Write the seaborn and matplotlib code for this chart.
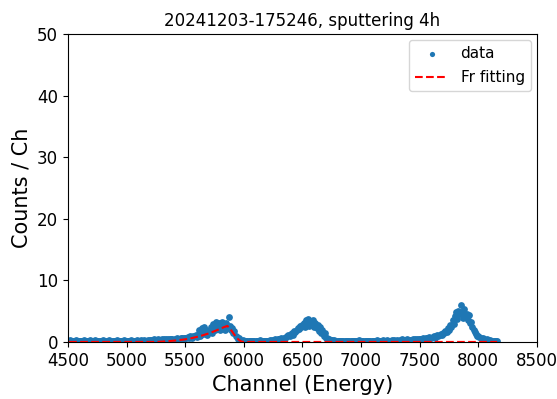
import numpy as np
import pandas as pd
import matplotlib
matplotlib.use("Agg")
import matplotlib.pyplot as plt
import seaborn as sns

# Spectrum: counts per channel, 10-channel spacing starting at 4510
channel_start = 4510
channel_step = 10
counts = [
    0.2, 0.3, 0.1, 0.2, 0.2, 0.1, 0.3, 0.2, 0.1, 0.2,   # 4510-4600
    0.1, 0.2, 0.2, 0.3, 0.1, 0.2, 0.1, 0.2, 0.3, 0.1,   # 4610-4700
    0.2, 0.1, 0.3, 0.2, 0.1, 0.2, 0.2, 0.1, 0.2, 0.3,   # 4710-4800
    0.1, 0.2, 0.1, 0.2, 0.3, 0.2, 0.1, 0.2, 0.1, 0.2,   # 4810-4900
    0.2, 0.3, 0.2, 0.1, 0.2, 0.2, 0.1, 0.3, 0.2, 0.1,   # 4910-5000
    0.2, 0.1, 0.2, 0.3, 0.2, 0.1, 0.2, 0.2, 0.3, 0.2,   # 5010-5100
    0.2, 0.3, 0.2, 0.1, 0.3, 0.2, 0.2, 0.3, 0.2, 0.3,   # 5110-5200
    0.3, 0.2, 0.4, 0.3, 0.2, 0.3, 0.4, 0.3, 0.2, 0.4,   # 5210-5300
    0.3, 0.4, 0.3, 0.5, 0.4, 0.3, 0.4, 0.5, 0.4, 0.3,   # 5310-5400
    0.5, 0.4, 0.6, 0.5, 0.4, 0.6, 0.7, 0.5, 0.6, 0.7,   # 5410-5500
    0.6, 0.8, 0.7, 0.9, 0.8, 0.7, 1.0, 0.9, 1.1, 0.8,   # 5510-5600
    1.2, 1.9, 1.0, 2.2, 1.3, 2.5, 1.5, 2.0, 1.2, 1.8,   # 5610-5700
    1.6, 2.5, 1.5, 2.9, 2.0, 3.2, 2.2, 2.7, 3.0, 1.9,   # 5710-5800
    3.2, 2.4, 2.8, 2.0, 3.0, 2.3, 4.0, 2.6, 1.9, 2.2,   # 5810-5900
    1.4, 1.7, 1.0, 0.8, 0.5, 0.6, 0.3, 0.2, 0.3, 0.2,   # 5910-6000
    0.1, 0.2, 0.1, 0.2, 0.1, 0.2, 0.2, 0.1, 0.2, 0.1,   # 6010-6100
    0.2, 0.1, 0.2, 0.3, 0.2, 0.1, 0.2, 0.2, 0.1, 0.2,   # 6110-6200
    0.2, 0.3, 0.2, 0.3, 0.2, 0.3, 0.4, 0.3, 0.4, 0.5,   # 6210-6300
    0.4, 0.6, 0.5, 0.7, 0.6, 0.8, 0.9, 1.1, 1.0, 1.3,   # 6310-6400
    1.4, 1.2, 1.7, 1.6, 2.0, 2.3, 2.1, 2.6, 2.4, 2.8,   # 6410-6500
    3.1, 2.5, 3.5, 2.9, 3.7, 2.6, 3.3, 3.0, 3.6, 2.4,   # 6510-6600
    3.0, 2.3, 2.7, 1.8, 2.4, 1.5, 1.9, 1.0, 1.4, 0.7,   # 6610-6700
    0.6, 0.5, 0.4, 0.3, 0.3, 0.2, 0.3, 0.2, 0.2, 0.1,   # 6710-6800
    0.2, 0.1, 0.2, 0.1, 0.2, 0.2, 0.1, 0.2, 0.1, 0.2,   # 6810-6900
    0.1, 0.2, 0.2, 0.1, 0.2, 0.1, 0.2, 0.3, 0.2, 0.1,   # 6910-7000
    0.2, 0.1, 0.2, 0.2, 0.1, 0.2, 0.1, 0.2, 0.2, 0.1,   # 7010-7100
    0.2, 0.2, 0.1, 0.3, 0.2, 0.1, 0.2, 0.2, 0.3, 0.2,   # 7110-7200
    0.2, 0.3, 0.2, 0.2, 0.1, 0.3, 0.2, 0.3, 0.2, 0.2,   # 7210-7300
    0.3, 0.2, 0.3, 0.2, 0.4, 0.3, 0.2, 0.3, 0.4, 0.3,   # 7310-7400
    0.2, 0.3, 0.3, 0.4, 0.3, 0.4, 0.3, 0.5, 0.4, 0.4,   # 7410-7500
    0.5, 0.4, 0.6, 0.5, 0.7, 0.6, 0.5, 0.8, 0.7, 0.6,   # 7510-7600
    0.8, 0.9, 0.7, 1.0, 1.1, 0.9, 1.2, 1.3, 1.1, 1.4,   # 7610-7700
    1.4, 1.8, 1.6, 2.3, 2.0, 2.7, 2.4, 3.6, 2.9, 4.2,   # 7710-7800
    4.8, 3.8, 5.1, 4.5, 6.0, 4.9, 3.9, 5.4, 4.2, 4.6,   # 7810-7900
    3.6, 4.4, 3.0, 3.3, 2.4, 2.0, 1.6, 1.3, 1.0, 0.9,   # 7910-8000
    0.8, 0.7, 0.5, 0.6, 0.4, 0.3, 0.4, 0.3, 0.2, 0.3,   # 8010-8100
    0.2, 0.1, 0.2, 0.2, 0.1, 0.2,                       # 8110-8160
]
channels = channel_start + channel_step * np.arange(len(counts))

# Fr peak fit, evaluated over the data range
fit_channels = [4510, 5250, 5300, 5350, 5400, 5450, 5500, 5550, 5600, 5650,
                5700, 5750, 5800, 5830, 5860, 5880, 5900, 5920, 5940, 5960,
                5980, 6000, 8160]
fit_counts = [0.0, 0.0, 0.05, 0.12, 0.2, 0.3, 0.42, 0.6, 0.82, 1.08,
              1.38, 1.75, 2.15, 2.4, 2.6, 2.2, 1.7, 1.15, 0.65, 0.3,
              0.05, 0.0, 0.0]

x_ticks = [4500, 5000, 5500, 6000, 6500, 7000, 7500, 8000, 8500]
y_ticks = [0, 10, 20, 30, 40, 50]

title = "20241203-175246, sputtering 4h"

spec = pd.DataFrame({"channel": channels, "counts": counts})
fit = pd.DataFrame({"channel": fit_channels, "counts": fit_counts})

fig = plt.figure(figsize=(5.57, 3.99), dpi=100)
ax = fig.add_axes([0.122, 0.143, 0.842, 0.772])

sns.scatterplot(data=spec, x="channel", y="counts", ax=ax, color="#1f77b4",
                s=24, linewidth=0, label="data", zorder=2)
sns.lineplot(data=fit, x="channel", y="counts", ax=ax, color="red",
             linestyle="--", linewidth=1.5, label="Fr fitting", zorder=3)

ax.set_xlim(4500, 8500)
ax.set_ylim(0, 50)
ax.set_xticks(x_ticks)
ax.set_yticks(y_ticks)
ax.tick_params(axis="both", labelsize=12)
ax.set_xlabel("Channel (Energy)", fontsize=15)
ax.set_ylabel("Counts / Ch", fontsize=15)
ax.set_title(title, fontsize=12)
leg = ax.legend(loc="upper right", fontsize=11, borderaxespad=0.4,
                handlelength=2.2, labelspacing=0.6)
for h in leg.legend_handles[:1]:
    h.set_sizes([14])

fig.savefig("out.png", dpi=100)
